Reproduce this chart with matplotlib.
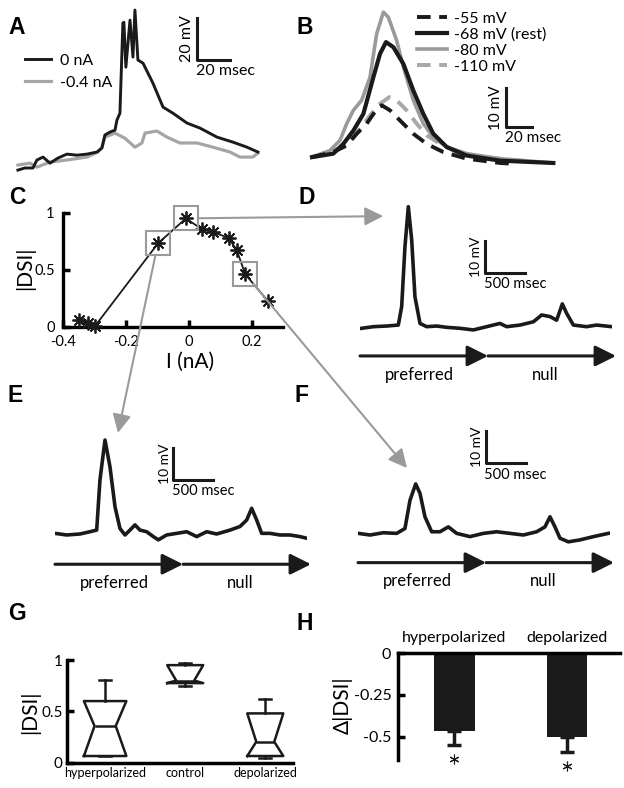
import matplotlib
matplotlib.use("Agg")
import matplotlib.pyplot as plt
from matplotlib.patches import ConnectionPatch

W, H = 624, 788
plt.rcParams['font.family'] = ['Lato', 'DejaVu Sans']

# ---- data ----
# A: spikes with / without current injection (ms, mV)
a_t_0na = [0, 4.2, 9.1, 11.5, 15.2, 19.4, 24.2, 29.7, 35.8, 41.8, 47.9, 50.9, 52.7, 55.8, 58.8, 60.0, 61.8,
           63.6, 64.2, 65.4, 67.9, 69.7, 70.9, 72.7, 75.8, 81.8, 87.9, 93.9, 102.4, 110.3, 120.6, 130.3, 138.8, 145.4]
a_v_0na = [0, 1.0, 1.0, 4.8, 6.2, 3.3, 5.7, 7.6, 7.1, 7.6, 8.6, 10.5, 16.7, 18.1, 19.0, 23.8, 27.1,
           70.0, 70.4, 49.0, 71.4, 53.8, 76.2, 52.4, 50.9, 41.4, 30.0, 27.1, 22.4, 20.0, 15.7, 13.3, 10.9, 8.6]
a_t_neg = [0, 7.3, 11.5, 19.4, 29.7, 41.8, 48.5, 50.9, 52.7, 58.8, 64.8, 70.9, 75.1, 77.0, 84.2, 90.3,
           98.2, 108.5, 118.2, 128.5, 134.5, 142.4, 145.4]
a_v_neg = [2.4, 3.3, 1.4, 3.8, 4.8, 6.2, 8.6, 10.9, 15.7, 17.6, 15.2, 10.9, 12.9, 17.6, 18.6, 15.7,
           12.9, 12.9, 10.9, 8.6, 6.2, 6.2, 8.1]

# B: PSPs at different holding potentials (ms, mV)
b_t_m80 = [0, 13.8, 21.5, 26.7, 31.8, 38.2, 44.6, 49.7, 54.9, 58.7, 65.1, 70.3, 77.9, 85.6, 93.3, 103.6, 119, 144.6, 185.6]
b_v_m80 = [0, 1.7, 4.3, 8.6, 12.0, 14.6, 20.5, 31.6, 37.2, 35.9, 29.9, 23.1, 14.6, 8.6, 5.1, 2.6, 0.9, -0.4, -1.5]
b_t_m68 = [0, 16.4, 24.1, 31.8, 39.5, 47.2, 52.3, 56.9, 62.6, 70.3, 77.9, 85.6, 93.3, 103.6, 119, 144.6, 185.6]
b_v_m68 = [0, 0.9, 3.4, 6.8, 11.1, 20.5, 26.5, 29.5, 28.2, 23.9, 17.1, 11.1, 6.0, 2.6, 0.4, -0.9, -1.5]
b_t_m55 = [0, 16.4, 26.7, 34.4, 42.1, 51.0, 53.6, 60.0, 67.7, 77.9, 88.2, 101, 119, 144.6, 154.9]
b_v_m55 = [0, 1.3, 3.0, 6.0, 8.6, 12.9, 13.3, 12.0, 9.4, 6.0, 3.4, 1.3, -0.4, -1.5, -1.7]
b_t_m110 = [0, 24.1, 36.9, 44.6, 52.3, 59.5, 65.1, 72.8, 80.5, 88.2, 98.5, 111.3, 131.8, 170.3]
b_v_m110 = [0, 2.6, 7.3, 10.7, 13.7, 15.4, 14.6, 12.0, 8.6, 5.6, 3.4, 1.3, 0, -1.2]

# C: |DSI| vs injected current
c_current = [-0.349, -0.322, -0.298, -0.098, -0.009, 0.042, 0.076, 0.127, 0.153, 0.18, 0.252]
c_dsi = [0.06, 0.03, 0.006, 0.73, 0.95, 0.855, 0.83, 0.78, 0.67, 0.46, 0.225]
c_highlight = [4, 3, 9]  # points shown in D, E, F

# D, E, F: responses to preferred then null motion (ms, mV)
d_t = [21, 167, 333, 479, 521, 562, 604, 646, 687, 750, 833, 958, 1083, 1250, 1417, 1583, 1750, 1833,
       2000, 2167, 2271, 2375, 2458, 2529, 2583, 2667, 2833, 2958, 3146]
d_v = [-0.5, 0, 0.2, 0.5, 6.2, 24.6, 36.9, 26.7, 9.2, 1, 0, 0.2, -0.2, -0.5, -1, 0, 1, 0,
       0.5, 1.5, 3.6, 3.1, 2, 7, 4.1, 0.5, 0, 0.5, 0]
e_t = [0, 146, 312, 437, 521, 562, 625, 687, 750, 812, 875, 937, 1000, 1062, 1146, 1229, 1291, 1396, 1521,
       1646, 1771, 1896, 2021, 2187, 2312, 2396, 2458, 2521, 2583, 2687, 2812, 2937, 3062, 3146]
e_v = [0.5, 0, 0.3, 1, 1.5, 16.9, 29.2, 21, 8.7, 2, 0, 1.5, 3.1, 1.5, 1, -0.5, -1.5, 0, 0.5,
       1, -0.5, 1, 0.3, 1.5, 2.6, 4.6, 8.2, 4.6, 0.5, 0.5, 0, 0, -0.5, -1]
f_t = [4, 150, 317, 483, 587, 650, 721, 775, 837, 921, 1025, 1129, 1233, 1400, 1567, 1733, 1900, 2067,
       2233, 2337, 2400, 2462, 2525, 2629, 2775, 2942, 3129]
f_v = [0, -0.5, 0.2, 0, 1.5, 10.2, 15.2, 12.3, 5.1, 0.5, 0.5, 2, 0, -1, 0, 0.5, 0, -0.5,
       0.5, 2, 5.1, 2, -1.5, -2.6, -2, -1, 0]
stim_edges = [0, 1600, 3200]

# G: |DSI| box plot
g_labels = ['hyperpolarized', 'control', 'depolarized']
g_med = [0.357, 0.80, 0.204]
g_q1 = [0.065, 0.775, 0.065]
g_q3 = [0.60, 0.95, 0.48]
g_whislo = [0.065, 0.75, 0.043]
g_whishi = [0.81, 0.975, 0.617]

# H: change in |DSI|
h_labels = ['hyperpolarized', 'depolarized']
h_delta = [-0.466, -0.504]
h_err = [0.084, 0.086]

BLACK = '#1a1a1a'
GRAY = '#9a9a9a'

fig = plt.figure(figsize=(W / 100, H / 100), dpi=100)


def px_axes(x0, y0, x1, y1):
    return fig.add_axes([x0 / W, 1 - y1 / H, (x1 - x0) / W, (y1 - y0) / H])


def scalebar(ax, x, y, dx, dy, xlab, ylab, fs_x, fs_y):
    ax.plot([x, x, x + dx], [y + dy, y, y], color=BLACK, lw=2.2, clip_on=False)
    ax.annotate(ylab, (x, y + dy / 2), xytext=(-2, 0), textcoords='offset points',
                rotation=90, ha='right', va='center', fontsize=fs_y)
    ax.annotate(xlab, (x, y), xytext=(-1, -3), textcoords='offset points',
                ha='left', va='top', fontsize=fs_x)


def panel_label(x, y, s):
    fig.text(x / W, 1 - y / H, s, ha='center', va='center', fontsize=16.5,
             fontweight='bold', family='Liberation Sans')


# ---- A ----
axA = px_axes(10, 5, 265, 185)
axA.axis('off')
axA.set_xlim(-4.8, 149.7)
axA.set_ylim(-7.1, 78.6)
lg, = axA.plot(a_t_neg, a_v_neg, color='#a5a5a5', lw=2.3, label='-0.4 nA')
lb, = axA.plot(a_t_0na, a_v_0na, color=BLACK, lw=2.1, label='0 nA')
axA.legend(handles=[lb, lg], frameon=False, loc='upper left', bbox_to_anchor=(0.06, 0.73),
           fontsize=11.5, handlelength=1.6, handletextpad=0.6, labelspacing=0.5,
           borderpad=0, borderaxespad=0)
scalebar(axA, 108.5, 52.4, 20, 20, '20 msec', '20 mV', 11.5, 11.5)

# ---- B ----
axB = px_axes(305, 0, 565, 170)
axB.axis('off')
axB.set_xlim(-5.4, 194.6)
axB.set_ylim(-3.3, 40.3)
l110, = axB.plot(b_t_m110, b_v_m110, color='#a8a8a8', lw=2.8, dashes=(3.5, 2.2), label='-110 mV')
l80, = axB.plot(b_t_m80, b_v_m80, color=GRAY, lw=2.6, label='-80 mV')
l55, = axB.plot(b_t_m55, b_v_m55, color=BLACK, lw=2.8, dashes=(3.5, 2.2), label='-55 mV')
l68, = axB.plot(b_t_m68, b_v_m68, color=BLACK, lw=3.0, label='-68 mV (rest)')
axB.legend(handles=[l55, l68, l80, l110], frameon=False, loc='upper left',
           bbox_to_anchor=(0.43, 0.93), fontsize=11.5, handlelength=1.9,
           handletextpad=0.4, labelspacing=0.1, borderpad=0, borderaxespad=0)
scalebar(axB, 149.2, 7.7, 20, 10, '20 msec', '10 mV', 11, 11)

# ---- C ----
axC = px_axes(63, 212.7, 283, 326.7)
axC.set_xlim(-0.4, 0.3)
axC.set_ylim(0, 1)
for s in ['top', 'right']:
    axC.spines[s].set_visible(False)
for s in ['left', 'bottom']:
    axC.spines[s].set_linewidth(2.4)
axC.plot(c_current, c_dsi, color=BLACK, lw=1.3, marker=(8, 2, 0), ms=10, mew=1.3,
         mec=BLACK, clip_on=False, zorder=3)
axC.plot([c_current[i] for i in c_highlight], [c_dsi[i] for i in c_highlight], 's', ms=17,
         mfc='none', mec=GRAY, mew=1.5, clip_on=False, zorder=4)
axC.set_xticks([-0.4, -0.2, 0, 0.2])
axC.set_xticklabels(['-0.4', '-0.2', '0', '0.2'])
axC.set_yticks([0, 0.5, 1])
axC.set_yticklabels(['0', '0.5', '1'])
axC.tick_params(direction='in', length=5, width=2.5, labelsize=10.5)
axC.tick_params(axis='x', pad=6)
axC.tick_params(axis='y', pad=6)
fig.text(25 / W, 1 - 268 / H, '|DSI|', rotation=90, ha='center', va='center', fontsize=15)
fig.text(190 / W, 1 - 362 / H, 'I (nA)', ha='center', va='center', fontsize=15)

# ---- D, E, F ----
trace_panels = [
    ((360, 195, 612, 380), d_t, d_v, 1562, 16.5, (290, 34)),
    ((55, 403.3, 307, 588.3), e_t, e_v, 1479, 16.9, (787, 31.4)),
    ((358, 401.7, 610, 586.7), f_t, f_v, 1596, 21.5, (612, 20.1)),
]
trace_axes = []
for box, t, v, sbx, sby, tip in trace_panels:
    ax = px_axes(*box)
    ax.axis('off')
    ax.set_xlim(0, 3150)
    ax.set_ylim(-16.4, 40.5)
    ax.plot(t, v, color=BLACK, lw=2.6)
    scalebar(ax, sbx, sby, 500, 10, '500 msec', '10 mV', 10.5, 10)
    for a0, a1 in zip(stim_edges[:-1], stim_edges[1:]):
        ax.annotate('', xy=(a1, -9), xytext=(a0, -9), annotation_clip=False,
                    arrowprops=dict(arrowstyle='-|>,head_length=0.9,head_width=0.45',
                                    lw=2.2, color=BLACK, mutation_scale=14,
                                    shrinkA=0, shrinkB=0))
    ax.text(740, -14.8, 'preferred', ha='center', va='center', fontsize=12)
    ax.text(2320, -14.8, 'null', ha='center', va='center', fontsize=12)
    trace_axes.append((ax, tip))

for idx, (ax, tip) in zip(c_highlight, trace_axes):
    con = ConnectionPatch(xyA=(c_current[idx], c_dsi[idx]), coordsA=axC.transData,
                          xyB=tip, coordsB=ax.transData,
                          arrowstyle='-|>,head_length=0.7,head_width=0.35', mutation_scale=16,
                          color=GRAY, lw=1.5, shrinkA=9, shrinkB=0)
    fig.add_artist(con)

# ---- G ----
axG = px_axes(66.7, 660, 293.3, 762.7)
stats = []
for i in range(3):
    stats.append(dict(med=g_med[i], q1=g_q1[i], q3=g_q3[i], whislo=g_whislo[i],
                      whishi=g_whishi[i], cilo=g_q1[i], cihi=g_q3[i], fliers=[],
                      label=g_labels[i]))
lp = dict(color=BLACK, lw=1.8)
axG.bxp(stats, positions=[1, 2, 3], widths=[0.53, 0.45, 0.45], shownotches=True,
        showfliers=False, boxprops=lp, whiskerprops=lp, capprops=lp, medianprops=lp,
        capwidths=[0.15, 0.15, 0.15])
axG.set_xlim(0.52, 3.35)
axG.set_ylim(0, 1)
for s in ['top', 'right']:
    axG.spines[s].set_visible(False)
for s in ['left', 'bottom']:
    axG.spines[s].set_linewidth(2.5)
axG.set_yticks([0, 0.5, 1])
axG.set_yticklabels(['0', '0.5', '1'])
axG.tick_params(axis='y', direction='in', length=5, width=2.5, labelsize=11, pad=3)
axG.tick_params(axis='x', length=0, labelsize=9, pad=3)
fig.text(30 / W, 1 - 712 / H, '|DSI|', rotation=90, ha='center', va='center', fontsize=15)

# ---- H ----
axH = px_axes(398.3, 653.3, 620, 760)
axH.bar([1, 2], h_delta, width=0.36, color=BLACK)
axH.errorbar([1, 2], h_delta, yerr=[h_err, [0, 0]], fmt='none', ecolor=BLACK,
             elinewidth=2.5, capsize=4.7, capthick=2.5, clip_on=False)
for x, d, e in zip([1, 2], h_delta, h_err):
    axH.plot(x, d - e - 0.085, marker=(6, 2, 0), ms=7, mew=0.8, color=BLACK, clip_on=False)
axH.set_xlim(0.502, 2.47)
axH.set_ylim(-0.64, 0)
for s in ['bottom', 'right']:
    axH.spines[s].set_visible(False)
for s in ['left', 'top']:
    axH.spines[s].set_linewidth(2.5)
axH.xaxis.tick_top()
axH.set_xticks([1, 2])
axH.set_xticklabels(h_labels)
axH.tick_params(axis='x', length=0, labelsize=11.5, pad=6)
axH.set_yticks([0, -0.25, -0.5])
axH.set_yticklabels(['0', '-0.25', '-0.5'])
axH.tick_params(axis='y', direction='in', length=5, width=2.5, labelsize=11.5, pad=5)
fig.text(343 / W, 1 - 705 / H, '\u0394|DSI|', rotation=90, ha='center', va='center', fontsize=15)

for (x, y, s) in [(17, 28, 'A'), (305, 28, 'B'), (17, 198, 'C'), (307, 197, 'D'),
                  (15, 395, 'E'), (302, 395, 'F'), (17, 614, 'G'), (305, 624, 'H')]:
    panel_label(x, y, s)

fig.savefig('out.png', dpi=100)
